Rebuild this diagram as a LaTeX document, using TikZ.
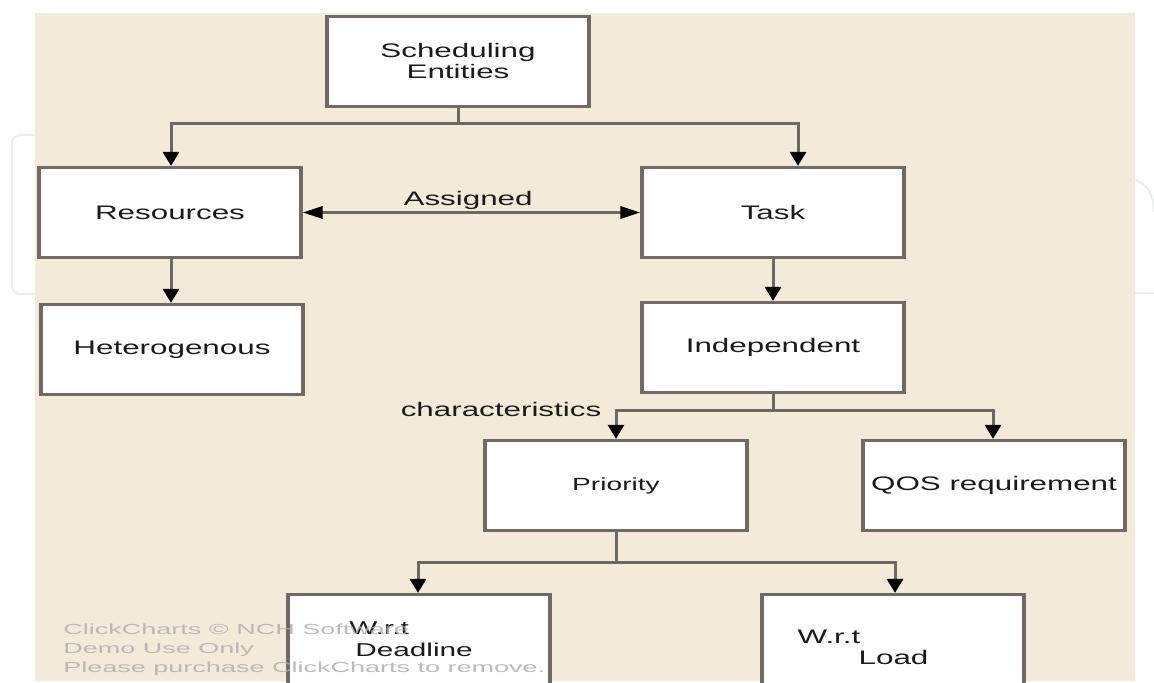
\documentclass[tikz,border=0pt]{standalone}
\usepackage{fontspec}
\usetikzlibrary{arrows.meta}
\newfontfamily\dgfont[FakeStretch=1.6]{Liberation Sans}
\newfontfamily\wmfont[FakeStretch=1.85]{Liberation Sans}
\definecolor{bg}{RGB}{243,234,217}
\definecolor{boxline}{RGB}{112,105,100}
\definecolor{conn}{RGB}{108,104,100}
\definecolor{txt}{RGB}{28,26,26}
\definecolor{wm}{RGB}{178,176,174}
\definecolor{faint}{RGB}{236,238,239}
\tikzset{
  ebox/.style={draw=boxline, line width=1.6pt, fill=white, minimum width=131pt,
    minimum height=45pt, inner sep=0pt, text=txt, align=center,
    font=\dgfont\fontsize{9.8}{10.5}\selectfont},
  lbl/.style={inner sep=0pt, text=txt, font=\dgfont\fontsize{9.8}{10.5}\selectfont},
  conline/.style={draw=conn, line width=1.5pt},
  varr/.style={conline, -{Triangle[width=8pt,length=7pt,color=black,fill=black]}},
  harr/.style={conline, {Triangle[width=6pt,length=10pt,color=black,fill=black]}-{Triangle[width=6pt,length=10pt,color=black,fill=black]}},
}
\begin{document}
\begin{tikzpicture}[x=0.5pt,y=-0.5pt]
\clip (0,0) rectangle (1154,683);
\fill[white] (0,0) rectangle (1154,683);
% faint outside decorations
\draw[faint, line width=1pt, rounded corners=4pt] (35,135) -- (12,135) -- (12,294) -- (35,294);
\draw[faint, line width=1pt] (1135,180) .. controls (1148,184) and (1154,196) .. (1154,212);
\draw[faint, line width=1pt] (1135,293) -- (1154,293);
% background
\fill[bg] (35,13) rectangle (1135,681);

% boxes
\node[ebox] (sched) at (458,61.5) {Scheduling\\Entities};
\node[ebox] (res) at (170,212.5) {Resources};
\node[ebox] (task) at (773,212.5) {Task};
\node[ebox] (het) at (172,349.5) {Heterogenous};
\node[ebox] (ind) at (773,347.5) {Independent};
\node[ebox, font=\dgfont\fontsize{8.8}{10.5}\selectfont] (pri) at (616,485.5) {Priority};
\node[ebox] (qos) at (994,485.5) {QOS requirement};
\node[ebox] (dead) at (419,639.5) {};
\node[ebox] (load) at (893,639.5) {};
\node[lbl, align=left, font=\dgfont\fontsize{9.3}{11}\selectfont] (deadtxt) at ([xshift=-4pt,yshift=0pt]dead.center) {W.r.t\\\hspace*{3pt}Deadline};
\node[lbl, align=left, font=\dgfont\fontsize{9.8}{10.5}\selectfont] (loadtxt) at ([xshift=-15pt,yshift=-4pt]load.center) {W.r.t\\\hspace*{30.5pt}Load};

% connectors
\draw[conline] (sched.south) -- ++(0,15) coordinate (j1);
\draw[varr] (j1) -| ([xshift=0.5pt]res.north);
\draw[varr] (j1) -| ([xshift=12.5pt]task.north);
\draw[harr] (res.east) -- node[lbl, pos=0.49, yshift=6pt] (asg) {Assigned} (task.west);
\draw[varr] ([xshift=0.5pt]res.south) -- ([xshift=0.5pt]res.south |- het.north);
\draw[varr] (task.south) -- (ind.north);
\draw[conline] (ind.south) -- ++(0,16) coordinate (j2);
\draw[varr] (j2) -| (pri.north);
\draw[varr] (j2) -| ([xshift=-0.5pt]qos.north);
\node[lbl] (char) at (501,409) {characteristics};
\draw[conline] (pri.south) -- ++(0,30) coordinate (j3);
\draw[varr] (j3) -| ([xshift=-0.5pt]dead.north);
\draw[varr] (j3) -| ([xshift=1pt]load.north);

% watermark
\node[anchor=north west, inner sep=0pt, align=left, text=wm, opacity=0.85,
  font=\wmfont\fontsize{7.3}{9.5}\selectfont] (wmark) at (63,624)
  {ClickCharts \textcopyright{} NCH Software\\Demo Use Only\\Please purchase ClickCharts to remove.};
\end{tikzpicture}
\end{document}
